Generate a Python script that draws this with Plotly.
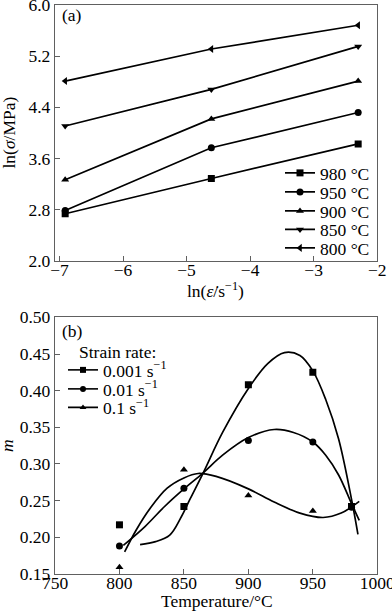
import plotly.graph_objects as go

# ---------------- data: panel (a) ----------------
ln_rate = [-6.91, -4.61, -2.30]
temp_labels_a = ["980 °C", "950 °C", "900 °C", "850 °C", "800 °C"]
ln_sigma_980 = [2.74, 3.29, 3.83]
ln_sigma_950 = [2.79, 3.77, 4.32]
ln_sigma_900 = [3.27, 4.22, 4.81]
ln_sigma_850 = [4.11, 4.68, 5.35]
ln_sigma_800 = [4.81, 5.31, 5.68]
x_ticks_a = [-7, -6, -5, -4, -3, -2]
y_ticks_a = [2.0, 2.8, 3.6, 4.4, 5.2, 6.0]

# ---------------- data: panel (b) ----------------
temp_b = [800, 850, 900, 950, 980]
rate_labels_b = ["0.001 s<sup>−1</sup>", "0.01 s<sup>−1</sup>", "0.1 s<sup>−1</sup>"]
m_0001 = [0.217, 0.242, 0.408, 0.425, 0.242]
m_001 = [0.188, 0.267, 0.332, 0.330, 0.241]
m_01 = [0.159, 0.292, 0.257, 0.236, 0.240]
# fitted curves
fit_T_0001 = [816, 828, 839, 848, 855, 865, 880, 900, 915, 928, 940, 950, 960, 970, 980, 985]
fit_m_0001 = [0.190, 0.194, 0.203, 0.228, 0.253, 0.288, 0.343, 0.403, 0.437, 0.452, 0.448, 0.427, 0.388, 0.334, 0.252, 0.204]
fit_T_001 = [803, 820, 835, 850, 865, 880, 900, 920, 935, 950, 960, 970, 980, 986]
fit_m_001 = [0.189, 0.215, 0.242, 0.266, 0.288, 0.312, 0.336, 0.347, 0.343, 0.330, 0.312, 0.285, 0.246, 0.223]
fit_T_01 = [804, 813, 824, 837, 850, 861, 875, 900, 920, 940, 958, 972, 986]
fit_m_01 = [0.180, 0.210, 0.240, 0.267, 0.281, 0.287, 0.283, 0.266, 0.248, 0.233, 0.227, 0.233, 0.249]
x_ticks_b = [750, 800, 850, 900, 950, 1000]
y_ticks_b = [0.15, 0.20, 0.25, 0.30, 0.35, 0.40, 0.45, 0.50]

W, H = 392, 612
FONT = "Liberation Serif, Times New Roman, serif"
FS = 17.5
AXC = "#606060"

def px(x):
    return x / W

def py(y):
    return 1 - y / H

fig = go.Figure()

series_a = [ln_sigma_980, ln_sigma_950, ln_sigma_900, ln_sigma_850, ln_sigma_800]
symbols_a = ["square", "circle", "triangle-up", "triangle-down", "triangle-left"]
legend_y_a = [173, 192, 211, 229.5, 248]
for i, (ys, sym, name) in enumerate(zip(series_a, symbols_a, temp_labels_a)):
    lg = "legend" if i == 0 else f"legend{i+1}"
    fig.add_trace(go.Scatter(
        x=ln_rate, y=ys, mode="lines+markers", name=name,
        line=dict(color="black", width=1.7),
        marker=dict(symbol=sym, size=7, color="black"),
        xaxis="x", yaxis="y", legend=lg))

curves_b = [(fit_T_0001, fit_m_0001), (fit_T_001, fit_m_001), (fit_T_01, fit_m_01)]
points_b = [m_0001, m_001, m_01]
symbols_b = ["square", "circle", "triangle-up"]
for i, ((ct, cm), pm, sym, name) in enumerate(zip(curves_b, points_b, symbols_b, rate_labels_b)):
    fig.add_trace(go.Scatter(
        x=ct, y=cm, mode="lines", line=dict(color="black", width=1.7, shape="spline", smoothing=1.0),
        xaxis="x2", yaxis="y2", showlegend=False, hoverinfo="skip"))
    fig.add_trace(go.Scatter(
        x=temp_b, y=pm, mode="markers", marker=dict(symbol=sym, size=7, color="black"),
        xaxis="x2", yaxis="y2", showlegend=False, name=name))
    fig.add_trace(go.Scatter(
        x=[None], y=[None], mode="lines+markers", name=name,
        line=dict(color="black", width=1.6),
        marker=dict(symbol=sym, size=6, color="black"),
        xaxis="x2", yaxis="y2", legend=f"legend{6+i}"))

axis_common = dict(
    showline=True, linecolor=AXC, linewidth=1.3, mirror=True,
    ticks="inside", ticklen=5, tickwidth=1, tickcolor=AXC,
    showgrid=False, zeroline=False,
    tickfont=dict(family=FONT, size=FS, color="black"),
    automargin=False, ticklabeloverflow="allow",
)

dom_x = [px(55), px(377.3)]
layout = dict(
    width=W, height=H,
    margin=dict(l=0, r=0, t=0, b=0),
    paper_bgcolor="white", plot_bgcolor="white",
    font=dict(family=FONT, size=FS, color="black"),
    xaxis=dict(domain=dom_x, range=[-7.07, -1.999], tickvals=x_ticks_a, anchor="y",
               ticklabelstandoff=-7, **axis_common),
    yaxis=dict(domain=[py(261.3), py(4.7)], range=[1.999, 6.001], tickvals=y_ticks_a,
               tickformat=".1f", anchor="x", **axis_common),
    xaxis2=dict(domain=dom_x, range=[750, 1000.01], tickvals=x_ticks_b, anchor="y2",
                ticklabelstandoff=-7, **axis_common),
    yaxis2=dict(domain=[py(574), py(317.3)], range=[0.1499, 0.5001], tickvals=y_ticks_b,
                tickformat=".2f", anchor="x2", **axis_common),
)

legend_common = dict(
    bgcolor="rgba(0,0,0,0)", borderwidth=0, itemwidth=30,
    font=dict(family=FONT, size=FS, color="black"),
    xanchor="left", yanchor="middle", xref="paper", yref="paper",
)
for i, yy in enumerate(legend_y_a):
    key = "legend" if i == 0 else f"legend{i+1}"
    layout[key] = dict(x=px(280), y=py(yy), **legend_common)
legend_y_b = [370, 389, 407.5]
for i, yy in enumerate(legend_y_b):
    layout[f"legend{6+i}"] = dict(x=px(63), y=py(yy), **legend_common)

fig.update_layout(**layout)

ann = [
    dict(text="(a)", x=px(60), y=py(15), xanchor="left", yanchor="middle"),
    dict(text="(b)", x=px(60), y=py(331), xanchor="left", yanchor="middle"),
    dict(text="Strain rate:", x=px(77), y=py(351.5), xanchor="left", yanchor="middle"),
    dict(text="ln(<i>σ</i>/MPa)", x=px(8.5), y=py(133), textangle=-90, xanchor="center", yanchor="middle"),
    dict(text="ln(<i>ε̇</i>/s<sup>−1</sup>)", x=px(216), y=py(290), xanchor="center", yanchor="middle"),
    dict(text="<i>m</i>", x=px(7), y=py(446), textangle=-90, xanchor="center", yanchor="middle"),
    dict(text="Temperature/°C", x=px(216.5), y=py(601), xanchor="center", yanchor="middle"),
]
for a in ann:
    a.update(xref="paper", yref="paper", showarrow=False,
             font=dict(family=FONT, size=FS, color="black"))
fig.update_layout(annotations=ann)

fig.write_html("out.html", config={"displayModeBar": False},
               post_script="document.body.style.margin='0';document.body.style.overflow='hidden';")
